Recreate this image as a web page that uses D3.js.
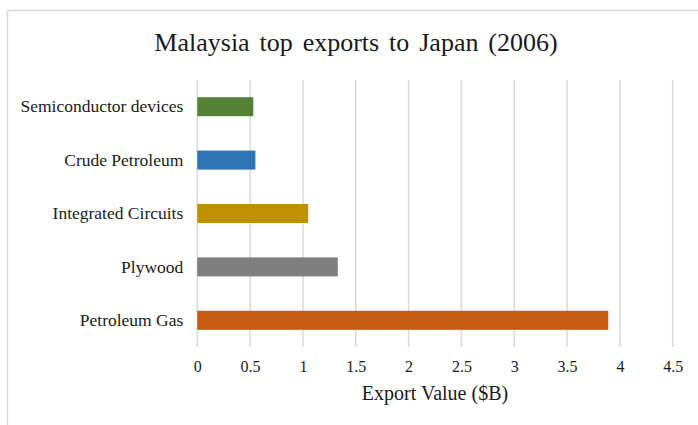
<!DOCTYPE html>
<html>
<head>
<meta charset="utf-8">
<script src="https://cdn.jsdelivr.net/npm/d3@7"></script>
<style>
  html, body { margin: 0; padding: 0; background: #fff; }
  svg { display: block; }
  text { font-family: "Liberation Serif", "Times New Roman", serif; fill: #1a1a1a; }
</style>
</head>
<body>
<div id="chart"></div>
<script>
// Malaysia's top exports to Japan, 2006 (billions of USD)
const categories = ["Semiconductor devices", "Crude Petroleum", "Integrated Circuits", "Plywood", "Petroleum Gas"];
const values = [0.53, 0.55, 1.05, 1.33, 3.89];
const colors = ["#548235", "#2E75B6", "#BF9000", "#7F7F7F", "#C55A11"];
const xTicks = [0, 0.5, 1, 1.5, 2, 2.5, 3, 3.5, 4, 4.5];
const titleText = "Malaysia top exports to Japan (2006)";
const xAxisTitle = "Export Value ($B)";

const W = 698, H = 425;
const plot = { left: 197.3, right: 672.7, top: 80, bottom: 347 };

const svg = d3.select("#chart").append("svg")
  .attr("width", W).attr("height", H);

// chart frame (partially outside the viewport)
svg.append("rect")
  .attr("x", 7.5).attr("y", 10.5)
  .attr("width", W + 20).attr("height", H + 20)
  .attr("fill", "#fff").attr("stroke", "#d9d9d9").attr("stroke-width", 1.5);

const x = d3.scaleLinear().domain([0, 4.5]).range([plot.left, plot.right]);
const y = d3.scaleBand().domain(categories)
  .range([plot.top, plot.bottom]).paddingInner(0.644).paddingOuter(0.322);

// vertical gridlines
svg.append("g").selectAll("line").data(xTicks).join("line")
  .attr("x1", d => x(d)).attr("x2", d => x(d))
  .attr("y1", plot.top).attr("y2", plot.bottom)
  .attr("stroke", "#d9d9d9").attr("stroke-width", 1.5);

// bars
svg.append("g").selectAll("rect").data(categories).join("rect")
  .attr("x", x(0))
  .attr("y", d => y(d))
  .attr("width", (d, i) => x(values[i]) - x(0))
  .attr("height", y.bandwidth())
  .attr("fill", (d, i) => colors[i]);

// category axis
const yAxis = d3.axisLeft(y).tickSize(0).tickPadding(14);
const gy = svg.append("g").attr("transform", `translate(${plot.left},0)`).call(yAxis);
gy.select(".domain").remove();
gy.selectAll("text")
  .style("font-family", "'Liberation Serif', 'Times New Roman', serif")
  .style("font-size", "17.5px").attr("fill", "#1a1a1a");

// value axis
const xAxis = d3.axisBottom(x).tickValues(xTicks).tickSize(0).tickPadding(14)
  .tickFormat(d => String(d));
const gx = svg.append("g").attr("transform", `translate(0,${plot.bottom})`).call(xAxis);
gx.select(".domain").remove();
gx.selectAll("text")
  .style("font-family", "'Liberation Serif', 'Times New Roman', serif")
  .style("font-size", "16px").attr("fill", "#1a1a1a");

// titles
svg.append("text")
  .attr("x", 356).attr("y", 51)
  .attr("text-anchor", "middle")
  .style("font-size", "26px")
  .style("word-spacing", "3.4px")
  .text(titleText);

svg.append("text")
  .attr("x", (plot.left + plot.right) / 2).attr("y", 400)
  .attr("text-anchor", "middle")
  .style("font-size", "20px")
  .text(xAxisTitle);
</script>
</body>
</html>
